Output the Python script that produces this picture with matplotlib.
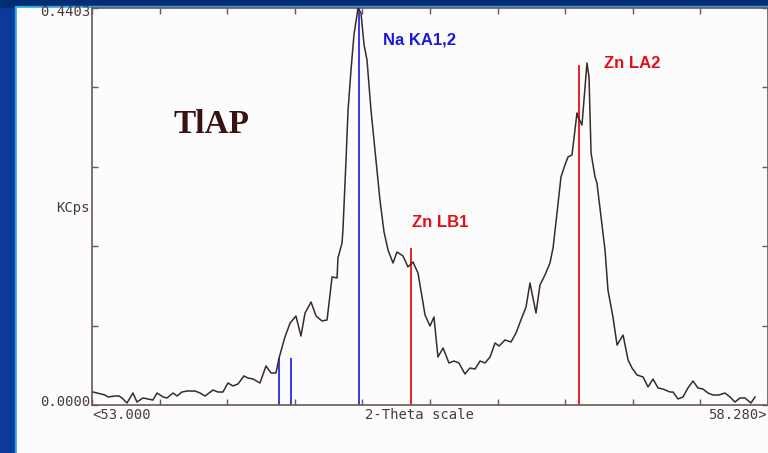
import numpy as np
import matplotlib
matplotlib.use("Agg")
import matplotlib.pyplot as plt
from matplotlib.patches import Rectangle

# scan data: 2-theta (deg) vs intensity (KCps)
two_theta = [53.008, 53.039, 53.102, 53.125, 53.180, 53.211, 53.234, 53.273, 53.320, 53.351,
             53.398, 53.437, 53.476, 53.508, 53.555, 53.586, 53.633, 53.664, 53.703, 53.742,
             53.805, 53.844, 53.883, 53.945, 53.984, 54.023, 54.062, 54.101, 54.140, 54.187,
             54.218, 54.258, 54.312, 54.359, 54.398, 54.437, 54.461, 54.507, 54.547, 54.593,
             54.632, 54.664, 54.711, 54.750, 54.796, 54.836, 54.875, 54.914, 54.921, 54.953,
             54.960, 54.984, 55.000, 55.023, 55.046, 55.078, 55.101, 55.125, 55.148, 55.179,
             55.218, 55.249, 55.281, 55.312, 55.351, 55.382, 55.429, 55.468, 55.507, 55.546,
             55.578, 55.601, 55.640, 55.671, 55.702, 55.742, 55.788, 55.827, 55.866, 55.913,
             55.952, 55.992, 56.031, 56.070, 56.109, 56.148, 56.179, 56.226, 56.273, 56.312,
             56.359, 56.390, 56.421, 56.468, 56.499, 56.538, 56.577, 56.601, 56.632, 56.663,
             56.694, 56.718, 56.749, 56.788, 56.796, 56.827, 56.843, 56.866, 56.882, 56.898,
             56.929, 56.944, 57.007, 57.030, 57.069, 57.101, 57.148, 57.187, 57.218, 57.257,
             57.304, 57.343, 57.382, 57.421, 57.460, 57.515, 57.538, 57.577, 57.616, 57.655,
             57.694, 57.733, 57.772, 57.811, 57.850, 57.897, 57.944, 57.983, 58.022, 58.061,
             58.100, 58.147, 58.178]
kcps = [0.0144, 0.0133, 0.0111, 0.0089, 0.0100, 0.0100, 0.0078, 0.0022, 0.0133, 0.0033,
        0.0078, 0.0067, 0.0055, 0.0133, 0.0089, 0.0078, 0.0133, 0.0100, 0.0144, 0.0155,
        0.0155, 0.0133, 0.0100, 0.0166, 0.0144, 0.0144, 0.0244, 0.0211, 0.0233, 0.0322,
        0.0299, 0.0288, 0.0244, 0.0433, 0.0355, 0.0355, 0.0521, 0.0754, 0.0909, 0.0987,
        0.0765, 0.1020, 0.1142, 0.0987, 0.0932, 0.0943, 0.1420, 0.1409, 0.1630, 0.1797,
        0.1941, 0.2717, 0.3272, 0.3715, 0.4104, 0.4403, 0.4348, 0.3993, 0.3826, 0.3272,
        0.2717, 0.2274, 0.1919, 0.1719, 0.1575, 0.1697, 0.1653, 0.1531, 0.1586, 0.1464,
        0.1198, 0.0998, 0.0876, 0.0976, 0.0532, 0.0632, 0.0466, 0.0488, 0.0466, 0.0344,
        0.0410, 0.0399, 0.0488, 0.0466, 0.0532, 0.0688, 0.0654, 0.0721, 0.0699, 0.0799,
        0.0976, 0.1087, 0.1353, 0.1020, 0.1331, 0.1442, 0.1575, 0.1741, 0.2129, 0.2529,
        0.2662, 0.2751, 0.2773, 0.3239, 0.3194, 0.3105, 0.3383, 0.3793, 0.3638, 0.2795,
        0.2529, 0.2462, 0.1719, 0.1275, 0.0976, 0.0665, 0.0776, 0.0499, 0.0410, 0.0333,
        0.0311, 0.0200, 0.0288, 0.0189, 0.0177, 0.0144, 0.0144, 0.0067, 0.0089, 0.0189,
        0.0266, 0.0189, 0.0177, 0.0133, 0.0111, 0.0111, 0.0133, 0.0089, 0.0033, 0.0078,
        0.0078, 0.0022, 0.0089]

# line markers
na_pos = [54.461, 54.554, 55.082]
na_height = [0.0521, 0.0521, 0.4403]
zn_pos = [55.489, 56.801]
zn_height = [0.1741, 0.3771]

x_min, x_max = 53.000, 58.280
y_max = 0.4403

W, H = 768, 453
fig = plt.figure(figsize=(W / 100, H / 100), dpi=100, facecolor="#0a3a9c")


def fpos(x, y):
    return x / W, 1 - y / H


# window frame
fig.patches.append(Rectangle((0, 1 - 7 / H), 1, 7 / H, transform=fig.transFigure,
                             color="#022c74", zorder=-10))
fig.patches.append(Rectangle((15 / W, 0), 1, 1 - 6 / H, transform=fig.transFigure,
                             color="#2aa6e0", zorder=-9))
fig.patches.append(Rectangle((17 / W, 0), 1, 1 - 8 / H, transform=fig.transFigure,
                             color="#fcfcfc", zorder=-8))

ink = "#4a3b3b"
axis_col = "#6b5757"

ax = fig.add_axes([92 / W, 48 / H, (W - 92) / W, 397 / H])
ax.set_facecolor("#fcfcfc")
ax.plot(two_theta, kcps, color="#3a2a2a", lw=1.1, zorder=3)
ax.vlines(na_pos, 0, na_height, color="#2a2aee", lw=1.3, zorder=2)
ax.vlines(zn_pos, 0, zn_height, color="#e8101a", lw=1.3, zorder=2)

ax.set_xlim(x_min, x_max)
ax.set_ylim(0, y_max)
ax.set_xticks(np.linspace(x_min, x_max, 11))
ax.set_yticks(np.linspace(0, y_max, 6))
ax.tick_params(direction="in", length=4.5, width=1, color=axis_col,
               top=True, right=True, labelbottom=False, labelleft=False)
for s in ax.spines.values():
    s.set_color(axis_col)
    s.set_linewidth(1.2)

mono = dict(family="DejaVu Sans Mono", fontsize=10, color=ink)
fig.text(*fpos(90, 12), "0.4403", ha="right", va="center", **mono)
fig.text(*fpos(90, 208), "KCps", ha="right", va="center", **mono)
fig.text(*fpos(90, 402), "0.0000", ha="right", va="center", **mono)
fig.text(*fpos(92, 415), "<53.000", ha="left", va="center", **mono)
fig.text(*fpos(365, 415), "2-Theta scale", ha="left", va="center", **mono)
fig.text(*fpos(767, 415), "58.280>", ha="right", va="center", **mono)

lab = dict(family="Liberation Sans", fontsize=12, fontweight="bold")
fig.text(*fpos(383, 40), "Na KA1,2", ha="left", va="center", color="#1a1ad6", **lab)
fig.text(*fpos(412, 222), "Zn LB1", ha="left", va="center", color="#e0101a", **lab)
fig.text(*fpos(604, 64), "Zn LA2", ha="left", va="center", color="#e0101a", **lab)

fig.text(*fpos(173, 124), "TlAP", ha="left", va="center", family="Liberation Serif",
         fontsize=24, fontweight="bold", color="#3a1212")

fig.savefig("out.png", dpi=100, facecolor=fig.get_facecolor())
